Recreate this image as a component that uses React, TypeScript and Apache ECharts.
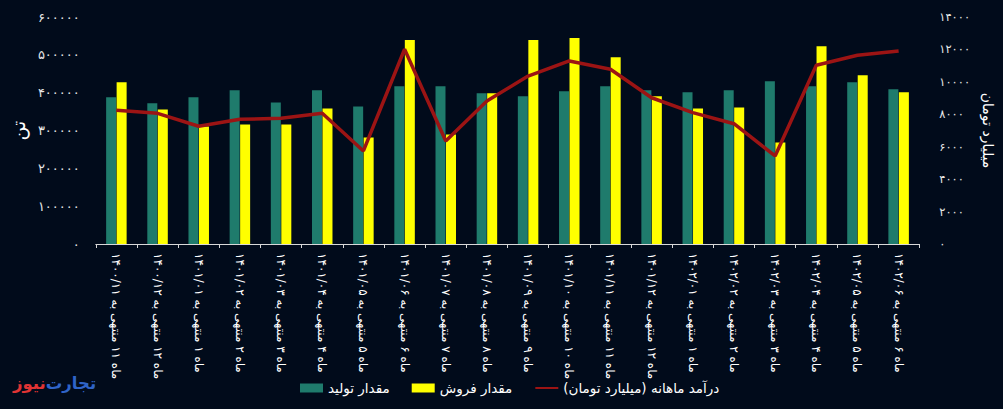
import React, { useEffect, useRef } from "react";
import * as echarts from "echarts";

const categories: string[] = [
  "ماه ۱۱ منتهی به ۱۴۰۰/۱۱",
  "ماه ۱۲ منتهی به ۱۴۰۰/۱۲",
  "ماه ۱ منتهی به ۱۴۰۱/۰۱",
  "ماه ۲ منتهی به ۱۴۰۱/۰۲",
  "ماه ۳ منتهی به ۱۴۰۱/۰۳",
  "ماه ۴ منتهی به ۱۴۰۱/۰۴",
  "ماه ۵ منتهی به ۱۴۰۱/۰۵",
  "ماه ۶ منتهی به ۱۴۰۱/۰۶",
  "ماه ۷ منتهی به ۱۴۰۱/۰۷",
  "ماه ۸ منتهی به ۱۴۰۱/۰۸",
  "ماه ۹ منتهی به ۱۴۰۱/۰۹",
  "ماه ۱۰ منتهی به ۱۴۰۱/۱۰",
  "ماه ۱۱ منتهی به ۱۴۰۱/۱۱",
  "ماه ۱۲ منتهی به ۱۴۰۱/۱۲",
  "ماه ۱ منتهی به ۱۴۰۲/۰۱",
  "ماه ۲ منتهی به ۱۴۰۲/۰۲",
  "ماه ۳ منتهی به ۱۴۰۲/۰۳",
  "ماه ۴ منتهی به ۱۴۰۲/۰۴",
  "ماه ۵ منتهی به ۱۴۰۲/۰۵",
  "ماه ۶ منتهی به ۱۴۰۲/۰۶",
];

// مقدار تولید (تن)
const production: number[] = [
  387600, 371700, 387600, 406200, 374300, 406200, 363700, 416800, 416800, 398200,
  390300, 403500, 416800, 406200, 400900, 406200, 430100, 416800, 427400, 408800,
];

// مقدار فروش (تن)
const sales: number[] = [
  427400, 355800, 310600, 316000, 316000, 358400, 281400, 539000, 289400, 398200,
  539000, 544200, 493800, 390300, 358400, 361100, 268100, 523000, 446000, 400900,
];

// درآمد ماهانه (میلیارد تومان)
const revenue: number[] = [
  8250, 8060, 7260, 7690, 7750, 8060, 5740, 12010, 6350, 8820,
  10360, 11290, 10780, 9020, 8100, 7420, 5430, 11020, 11640, 11900,
];

const leftAxisName = "تن";
const rightAxisName = "میلیارد تومان";
const seriesNames = ["مقدار تولید", "مقدار فروش", "درآمد ماهانه (میلیارد تومان)"];
const logoParts = ["تجارت", "نیوز"];

const RLM = "\u200F";
const faDigits = "۰۱۲۳۴۵۶۷۸۹";
const toFa = (v: number | string) =>
  String(v).replace(/[0-9]/g, (d) => faDigits[Number(d)]);

const FONT = "'DejaVu Sans', 'Noto Sans', sans-serif";

export default function App() {
  const ref = useRef<HTMLDivElement>(null);

  useEffect(() => {
    if (!ref.current) return;
    const chart = echarts.init(ref.current, undefined, { renderer: "svg" });
    chart.setOption({
      animation: false,
      backgroundColor: "#010b1b",
      textStyle: { fontFamily: FONT },
      grid: { left: 87, right: 73, top: 17, bottom: 165, containLabel: false },
      legend: {
        left: 295,
        top: 376,
        itemWidth: 23,
        itemHeight: 9,
        itemGap: 22,
        textStyle: { color: "#ffffff", fontSize: 13.5, fontFamily: FONT },
        data: [
          { name: seriesNames[0], icon: "rect" },
          { name: seriesNames[1], icon: "rect" },
          { name: seriesNames[2] + RLM, itemStyle: { opacity: 0 } },
        ],
      },
      xAxis: {
        type: "category",
        data: categories,
        axisLine: { show: true, lineStyle: { color: "#d8d8d8", width: 1 } },
        axisTick: { show: true, length: 4, lineStyle: { color: "#d8d8d8" } },
        axisLabel: {
          interval: 0,
          rotate: -90,
          color: "#ffffff",
          fontSize: 12,
          margin: 9,
          fontFamily: FONT,
        },
        splitLine: { show: false },
      },
      yAxis: [
        {
          type: "value",
          min: 0,
          max: 600000,
          interval: 100000,
          position: "left",
          name: leftAxisName,
          nameLocation: "middle",
          nameRotate: 90,
          nameGap: 66,
          nameTextStyle: { color: "#ffffff", fontSize: 19, fontFamily: FONT },
          axisLine: { show: false },
          axisTick: { show: false },
          splitLine: { show: false },
          axisLabel: {
            color: "#e6e6e6",
            fontSize: 13,
            margin: 16,
            fontFamily: FONT,
            formatter: (v: number) => toFa(v),
          },
        },
        {
          type: "value",
          min: 0,
          max: 14000,
          interval: 2000,
          position: "right",
          name: rightAxisName,
          nameLocation: "middle",
          nameRotate: -90,
          nameGap: 57,
          nameTextStyle: { color: "#ffffff", fontSize: 14, fontFamily: FONT },
          axisLine: { show: false },
          axisTick: { show: false },
          splitLine: { show: false },
          axisLabel: {
            color: "#e6e6e6",
            fontSize: 11.5,
            margin: 20,
            fontFamily: FONT,
            formatter: (v: number) => toFa(v),
          },
        },
      ],
      series: [
        {
          name: seriesNames[0],
          type: "bar",
          yAxisIndex: 0,
          data: production,
          barWidth: 10,
          barGap: "5%",
          itemStyle: { color: "#1f7b6c" },
        },
        {
          name: seriesNames[1],
          type: "bar",
          yAxisIndex: 0,
          data: sales,
          barWidth: 10,
          barGap: "5%",
          itemStyle: { color: "#ffff00" },
        },
        {
          name: seriesNames[2] + RLM,
          type: "line",
          yAxisIndex: 1,
          data: revenue,
          symbol: "none",
          smooth: false,
          lineStyle: { color: "#9c1414", width: 3.5 },
          itemStyle: { color: "#9c1414" },
          z: 5,
        },
      ],
      graphic: [
        {
          type: "text",
          x: 13,
          y: 383,
          style: {
            text: `{r|${logoParts[1]}}{b|${logoParts[0]}}`,
            textVerticalAlign: "middle",
            textAlign: "left",
            rich: {
              r: { fill: "#e03434", fontSize: 16.5, fontWeight: "bold", fontFamily: FONT },
              b: { fill: "#2f64c8", fontSize: 16.5, fontWeight: "bold", fontFamily: FONT },
            },
          },
        },
      ],
    });
    return () => chart.dispose();
  }, []);

  return (
    <div
      ref={ref}
      style={{ position: "fixed", left: 0, top: 0, width: 1003, height: 409 }}
    />
  );
}
